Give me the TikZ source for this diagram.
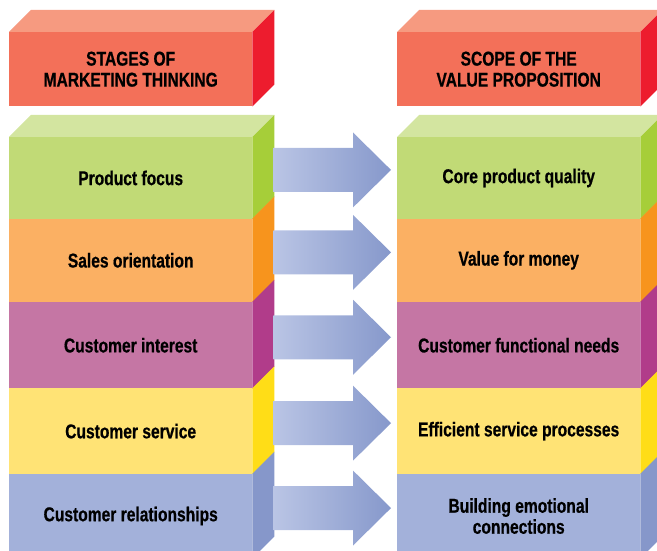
\documentclass[tikz,border=0pt]{standalone}
\usepackage{fontspec}
\newfontfamily\blockfont{Liberation Sans}[UprightFont=*-Bold, FakeStretch=0.78, FakeBold=0.6]
\usetikzlibrary{positioning,calc}

\definecolor{headfront}{HTML}{F37059}
\definecolor{headtop}{HTML}{F69A80}
\definecolor{headside}{HTML}{ED1C2E}
\definecolor{greenfront}{HTML}{C1DA76}
\definecolor{greentop}{HTML}{D3E5A0}
\definecolor{greenside}{HTML}{A6CE39}
\definecolor{orangefront}{HTML}{FBB063}
\definecolor{orangeside}{HTML}{F7941D}
\definecolor{purplefront}{HTML}{C576A4}
\definecolor{purpleside}{HTML}{B13C8A}
\definecolor{yellowfront}{HTML}{FFE375}
\definecolor{yellowside}{HTML}{FFDD17}
\definecolor{bluefront}{HTML}{A3B1DA}
\definecolor{blueside}{HTML}{8697CA}
\definecolor{arrowlight}{HTML}{BAC5E5}
\definecolor{arrowdark}{HTML}{8698CB}

\tikzset{
  face/.style={minimum width=243pt, inner sep=0pt, align=center,
    font=\blockfont\fontsize{20}{21}\selectfont},
  arrowfill/.style={left color=arrowlight, right color=arrowdark}
}

% faces of a block, drawn from its front node
\newcommand\sideface[2]{\fill[#2] (#1.north east) -- ++(22,-22) -- ($(#1.south east)+(22,-22)$) -- (#1.south east) -- cycle;}
\newcommand\topface[2]{\fill[#2] (#1.north west) -- ++(22,-22) -- ($(#1.north east)+(22,-22)$) -- (#1.north east) -- cycle;}
% block arrow from a left block to a right block
\newcommand\blockarrow[2]{\shade[arrowfill] ($(#1.east)+(21,-30)$) -- ($(#2.west)+(-44,-30)$) -- ++(0,-15.5)
  -- ($(#2.west)+(-6,-8)$) -- ($(#2.west)+(-44,29.5)$) -- ++(0,-15.5) -- ($(#1.east)+(21,14)$) -- cycle;}

\begin{document}
\begin{tikzpicture}[x=1pt,y=-1pt]
    \useasboundingbox (0,0) rectangle (657,551);

    % Headers
    \node[face, fill=headfront, minimum height=74pt, anchor=north west] (headL) at (9,32) {STAGES OF\\MARKETING THINKING};
    \node[face, fill=headfront, minimum height=74pt, anchor=north west] (headR) at (397,32) {SCOPE OF THE\\VALUE PROPOSITION};
    \topface{headL}{headtop}
    \sideface{headL}{headside}
    \topface{headR}{headtop}
    \sideface{headR}{headside}

    % Stages of marketing thinking
    \node[face, fill=greenfront, minimum height=81.5pt, anchor=north west] (prodL) at (9,137) {Product focus};
    \node[face, fill=orangefront, minimum height=83.5pt, below=-0.5pt of prodL] (salesL) {Sales orientation};
    \node[face, fill=purplefront, minimum height=86.5pt, below=-0.5pt of salesL] (interestL) {Customer interest};
    \node[face, fill=yellowfront, minimum height=85.5pt, below=-0.5pt of interestL] (serviceL) {Customer service};
    \node[face, fill=bluefront, minimum height=84.5pt, below=-0.5pt of serviceL] (relationL) {Customer relationships};

    % Scope of the value proposition
    \node[face, fill=greenfront, minimum height=81.5pt, anchor=north west] (prodR) at (397,137) {Core product quality};
    \node[face, fill=orangefront, minimum height=83.5pt, below=-0.5pt of prodR] (salesR) {Value for money};
    \node[face, fill=purplefront, minimum height=86.5pt, below=-0.5pt of salesR] (interestR) {Customer functional needs};
    \node[face, fill=yellowfront, minimum height=85.5pt, below=-0.5pt of interestR] (serviceR) {Efficient service processes};
    \node[face, fill=bluefront, minimum height=84.5pt, below=-0.5pt of serviceR] (relationR) {Building emotional\\connections};

    % Top and side faces
    \foreach \side in {L,R} {
        \topface{prod\side}{greentop}
        \sideface{prod\side}{greenside}
        \sideface{sales\side}{orangeside}
        \sideface{interest\side}{purpleside}
        \sideface{service\side}{yellowside}
        \sideface{relation\side}{blueside}
    }

    % Arrows
    \foreach \row in {prod,sales,interest,service,relation} {
        \blockarrow{\row L}{\row R}
    }

\end{tikzpicture}
\end{document}
